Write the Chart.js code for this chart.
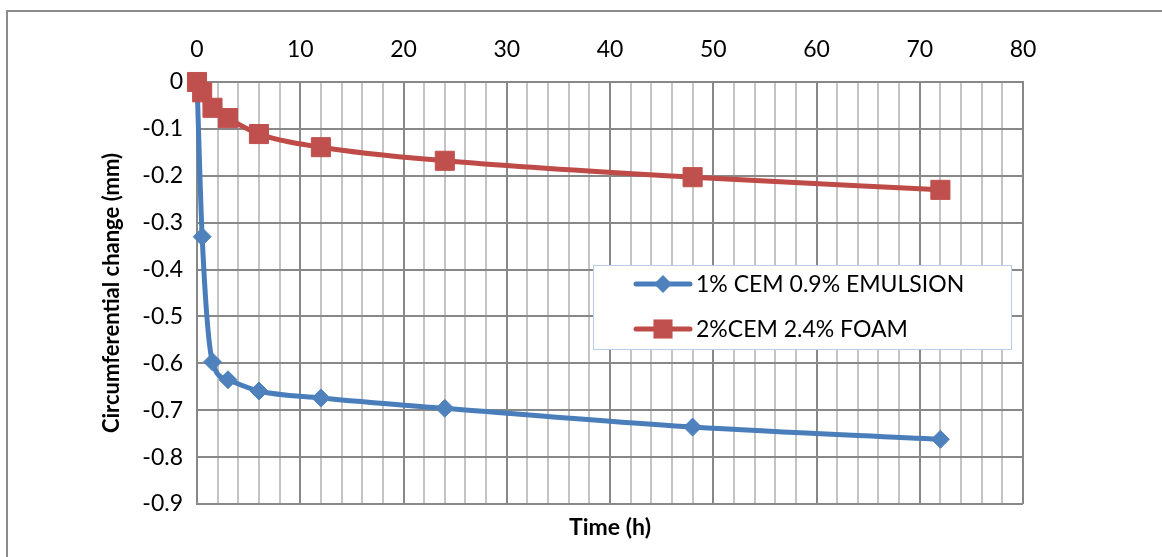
<!DOCTYPE html>
<html>
<head>
<meta charset="utf-8">
<script src="https://cdn.jsdelivr.net/npm/chart.js@4/dist/chart.umd.min.js"></script>
<style>
  html, body { margin: 0; padding: 0; background: #ffffff; }
  #wrap { position: relative; width: 1162px; height: 557px; overflow: hidden; }
  #frame { position: absolute; left: 6px; top: 10px; width: 1200px; height: 600px;
           border-left: 2px solid #8c8c8c; border-top: 2px solid #8c8c8c; }
  canvas { position: absolute; left: 0; top: 0; }
</style>
</head>
<body>
<div id="wrap">
  <div id="frame"></div>
  <canvas id="c" width="1162" height="557"></canvas>
</div>
<script>
// Sampling times (hours) and measured circumferential change (mm)
const hours    = [0, 0.5, 1.5, 3, 6, 12, 24, 48, 72];
const emulsion = [0, -0.33, -0.597, -0.635, -0.659, -0.674, -0.696, -0.736, -0.762];
const foam     = [0, -0.022, -0.055, -0.077, -0.111, -0.139, -0.168, -0.203, -0.230];

const seriesNames = ['1% CEM 0.9% EMULSION', '2%CEM 2.4% FOAM'];
const xTitle = 'Time (h)';
const yTitle = 'Circumferential change (mm)';

const FONT = 'Lato, "Open Sans", "DejaVu Sans", sans-serif';
const BLUE_LINE = '#4a7ebb', BLUE_FILL = '#4f81bd';
const RED_LINE = '#be4b48', RED_FILL = '#c0504d';

const toPoints = ys => hours.map((h, i) => ({ x: h, y: ys[i] }));

// Legend box drawn inside the plot area
const insetLegend = {
  id: 'insetLegend',
  afterDraw(chart) {
    const { ctx, chartArea: a } = chart;
    const bx = a.left + 396, by = a.top + 183, bw = 419, bh = 85;
    ctx.save();
    ctx.fillStyle = '#ffffff';
    ctx.fillRect(bx, by, bw, bh);
    ctx.strokeStyle = '#b9cde5';
    ctx.lineWidth = 1;
    ctx.strokeRect(bx + 0.5, by + 0.5, bw - 1, bh - 1);
    chart.data.datasets.forEach((ds, i) => {
      const y = by + 19 + i * 45;
      ctx.strokeStyle = ds.borderColor;
      ctx.lineWidth = ds.borderWidth;
      ctx.lineCap = 'round';
      ctx.beginPath();
      ctx.moveTo(bx + 43, y);
      ctx.lineTo(bx + 97, y);
      ctx.stroke();
      const mx = bx + 70, r = ds.pointRadius;
      ctx.fillStyle = ds.pointBackgroundColor;
      ctx.beginPath();
      if (ds.pointStyle === 'rectRot') {
        ctx.moveTo(mx - r, y); ctx.lineTo(mx, y - r); ctx.lineTo(mx + r, y); ctx.lineTo(mx, y + r);
      } else {
        const s = Math.SQRT1_2 * r;
        ctx.rect(mx - s, y - s, 2 * s, 2 * s);
      }
      ctx.closePath();
      ctx.fill();
      ctx.fillStyle = '#000000';
      ctx.font = '23px ' + FONT;
      ctx.textBaseline = 'middle';
      ctx.textAlign = 'left';
      ctx.fillText(ds.label, bx + 103, y + 1);
    });
    ctx.restore();
  }
};

new Chart(document.getElementById('c'), {
  type: 'line',
  data: {
    datasets: [
      {
        label: seriesNames[0],
        data: toPoints(emulsion),
        borderColor: BLUE_LINE, borderWidth: 5,
        pointStyle: 'rectRot', pointRadius: 9,
        pointBackgroundColor: BLUE_FILL, pointBorderColor: BLUE_FILL, pointBorderWidth: 1,
        cubicInterpolationMode: 'monotone', order: 1, clip: false
      },
      {
        label: seriesNames[1],
        data: toPoints(foam),
        borderColor: RED_LINE, borderWidth: 5,
        pointStyle: 'rect', pointRadius: 13.5,
        pointBackgroundColor: RED_FILL, pointBorderColor: RED_FILL, pointBorderWidth: 1,
        cubicInterpolationMode: 'monotone', order: 0, clip: false
      }
    ]
  },
  options: {
    responsive: false,
    animation: false,
    devicePixelRatio: 1,
    layout: { padding: { left: 0, top: 0, right: 139, bottom: 0 } },
    plugins: { legend: { display: false }, tooltip: { enabled: false } },
    scales: {
      x: {
        type: 'linear', position: 'top', min: 0, max: 80,
        ticks: {
          stepSize: 2, padding: 19, color: '#000000', maxRotation: 0, autoSkip: false,
          font: { family: FONT, size: 23 },
          callback: v => (Math.round(v) % 10 === 0 ? String(Math.round(v)) : '')
        },
        grid: {
          drawTicks: false, lineWidth: 2,
          color: c => (Math.round(c.tick.value) % 10 === 0 ? '#888888' : '#c4c4c4')
        },
        border: { display: true, color: '#888888', width: 2 },
        afterFit: s => { s.height = 82; }
      },
      xb: {
        type: 'linear', position: 'bottom', min: 0, max: 80,
        ticks: { display: false },
        grid: { display: false, drawTicks: false },
        border: { display: false },
        title: {
          display: true, text: xTitle, color: '#000000',
          font: { family: FONT, size: 23, weight: 'bold' },
          padding: { top: 0, bottom: 16 }
        },
        afterFit: s => { s.height = 53; }
      },
      y: {
        type: 'linear', min: -0.9, max: 0,
        ticks: {
          stepSize: 0.1, padding: 14, color: '#000000',
          font: { family: FONT, size: 23 },
          callback: v => { const r = Math.round(v * 10) / 10; return r === 0 ? '0' : String(r); }
        },
        grid: { drawTicks: false, lineWidth: 2, color: '#888888' },
        border: { display: true, color: '#888888', width: 2 },
        title: {
          display: true, text: yTitle, color: '#000000',
          font: { family: FONT, size: 22, weight: 'bold' },
          padding: { top: 99, bottom: 0 }
        },
        afterFit: s => { s.width = 197; }
      }
    }
  },
  plugins: [insetLegend]
});
</script>
</body>
</html>
